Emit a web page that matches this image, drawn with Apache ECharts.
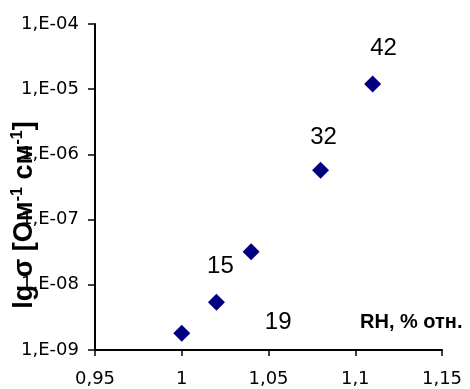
<!DOCTYPE html>
<html>
<head>
<meta charset="utf-8">
<script src="https://cdn.jsdelivr.net/npm/echarts@6/dist/echarts.min.js"></script>
<style>html,body{margin:0;padding:0;background:#fff}#c{width:470px;height:389px}</style>
</head>
<body>
<div id="c"></div>
<script>
var rhValues = [1.00, 1.02, 1.04, 1.08, 1.11];
var sigmaValues = [1.8e-9, 5.4e-9, 3.2e-8, 5.7e-7, 1.2e-5];
var pointLabels = ['', '15', '19', '32', '42'];
var labelOffsets = [[0, 0], [4, -36], [27, 71], [3, -33], [11, -36]];
var xTicks = {min: 0.95, max: 1.15, step: 0.05};
var yTicks = {min: 1e-9, max: 1e-4};

var chart = echarts.init(document.getElementById('c'));
var data = rhValues.map(function (x, i) {
  return {
    value: [x, sigmaValues[i]],
    label: {
      show: pointLabels[i] !== '',
      formatter: pointLabels[i],
      position: 'inside',
      offset: labelOffsets[i],
      color: '#000',
      opacity: 1,
      fontSize: 24,
      fontFamily: 'Liberation Sans, Arial, sans-serif'
    }
  };
});
chart.setOption({
  animation: false,
  backgroundColor: '#fff',
  grid: {left: 95, right: 28, top: 24, bottom: 39},
  xAxis: {
    type: 'value', min: xTicks.min, max: xTicks.max, interval: xTicks.step,
    splitLine: {show: false},
    axisLine: {show: true, onZero: false, lineStyle: {color: '#000', width: 2}},
    axisTick: {show: true, inside: false, length: 6, lineStyle: {color: '#000', width: 1.5}},
    axisLabel: {
      color: '#000', fontSize: 18, fontFamily: 'DejaVu Sans', margin: 20,
      formatter: function (v) { return parseFloat(v.toFixed(2)).toString().replace('.', ','); }
    }
  },
  yAxis: {
    type: 'log', logBase: 10, min: yTicks.min, max: yTicks.max,
    splitLine: {show: false},
    axisLine: {show: true, lineStyle: {color: '#000', width: 2}},
    axisTick: {show: true, inside: false, length: 7, lineStyle: {color: '#000', width: 1.5}},
    axisLabel: {
      color: '#000', fontSize: 18, fontFamily: 'DejaVu Sans', margin: 16,
      formatter: function (v) {
        var e = Math.round(Math.log10(v));
        var a = Math.abs(e);
        return '1,E' + (e < 0 ? '-' : '+') + (a < 10 ? '0' : '') + a;
      }
    }
  },
  series: [{
    type: 'scatter',
    symbol: 'diamond',
    symbolSize: 17,
    itemStyle: {color: '#000080', opacity: 1},
    emphasis: {disabled: true},
    data: data
  }],
  graphic: [
    {
      type: 'text', left: 360, top: 312,
      style: {text: 'RH, % отн.', fill: '#000', font: 'bold 20px "Liberation Sans", Arial, sans-serif'}
    },
    {
      type: 'text', x: 25, y: 215, rotation: Math.PI / 2,
      style: {
        text: '{a|lg σ [Ом}{s|-1}{a| см}{s|-1}{a|]}',
        align: 'center', verticalAlign: 'middle', fill: '#000',
        rich: {
          a: {fontSize: 27, fontWeight: 'bold', fontFamily: 'Liberation Sans, Arial, sans-serif', fill: '#000'},
          s: {fontSize: 16, fontWeight: 'bold', fontFamily: 'Liberation Sans, Arial, sans-serif', fill: '#000', padding: [0, 0, 14, 0]}
        }
      }
    }
  ]
});
</script>
</body>
</html>
